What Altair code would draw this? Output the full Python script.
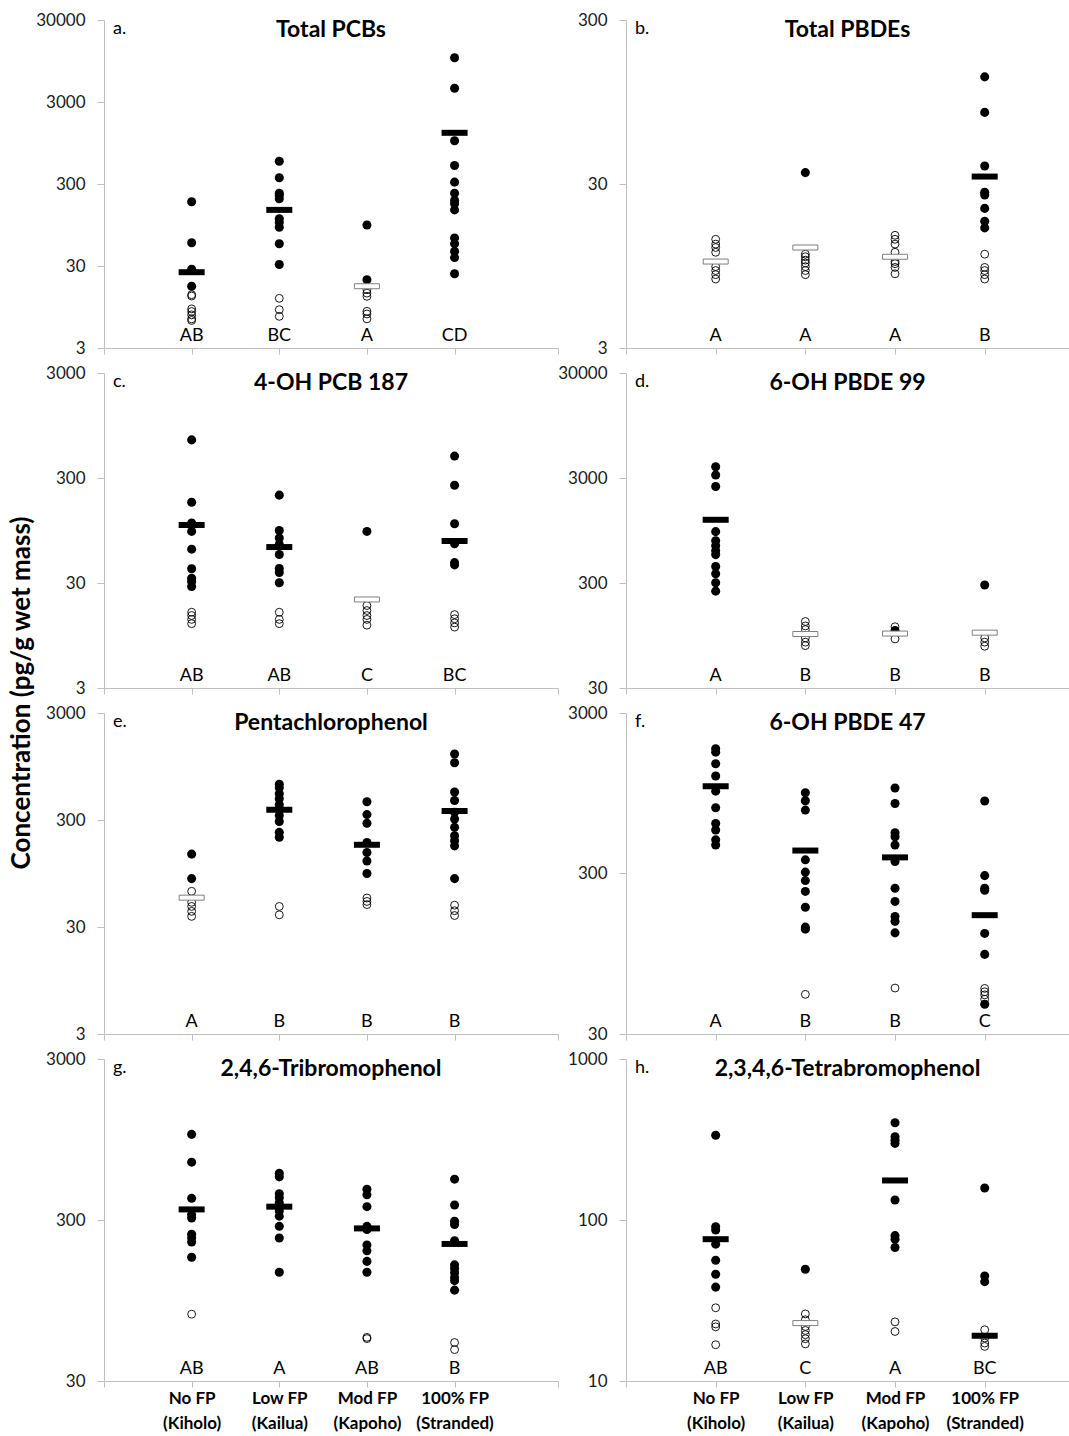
import altair as alt
import pandas as pd

# ---------------- data ----------------
X_LABELS = [["No FP", "(Kiholo)"], ["Low FP", "(Kailua)"], ["Mod FP", "(Kapoho)"], ["100% FP", "(Stranded)"]]

A_TITLE = "Total PCBs"
A_FILLED = [[182, 57.6, 27.4, 17],
            [569, 357, 231, 219, 198, 113, 102, 89, 56, 31.3],
            [95, 20.4],
            [10377, 4418, 1010, 505, 316, 231, 189, 172, 145, 66, 56, 45, 38, 24.1]]
A_OPEN = [[13.4, 12.9, 9.0, 8.35, 7.6, 6.8, 6.5], [12.1, 8.8, 7.3], [15.4, 14, 12.8, 8.4, 7.8, 6.8], []]
A_MEAN = [25.2, 145, 17, 1263]
A_MEAN_OPEN = [False, False, True, False]
A_LETTERS = ["AB", "BC", "A", "CD"]
A_YTICKS = [3, 30, 300, 3000, 30000]

B_TITLE = "Total PBDEs"
B_FILLED = [[], [35.2], [], [135, 82, 38.6, 26.7, 25.7, 21.3, 17.8, 16.2]]
B_OPEN = [[13.8, 12.9, 12.3, 11.5, 9.4, 8.9, 8.4, 7.9],
          [11.2, 10.8, 10.3, 9.9, 9.4, 8.9, 8.4],
          [14.6, 13.8, 12.9, 11.5, 10.1, 9.8, 9.3, 8.5],
          [11.2, 9.3, 8.9, 8.4, 7.9]]
B_MEAN = [10.1, 12.3, 10.8, 33.3]
B_MEAN_OPEN = [True, True, True, False]
B_LETTERS = ["A", "A", "A", "B"]
B_YTICKS = [3, 30, 300]

C_TITLE = "4-OH PCB 187"
C_FILLED = [[692, 176, 112, 93, 63, 41, 33.3, 31, 27.8],
            [206, 95, 80.6, 69.7, 56, 41.3, 37.8, 30.2],
            [93],
            [485, 256, 110, 71, 46.9, 44.6]]
C_OPEN = [[15.8, 14.7, 13.5, 12.3], [15.8, 13.5, 12.3], [18.3, 16.4, 14.7, 13.5, 11.9], [15, 13.7, 12.5, 11.4]]
C_MEAN = [107, 66, 20.9, 75.4]
C_MEAN_OPEN = [False, False, True, False]
C_LETTERS = ["AB", "AB", "C", "BC"]
C_YTICKS = [3, 30, 300, 3000]

D_TITLE = "6-OH PBDE 99"
D_FILLED = [[3840, 3200, 2490, 925, 758, 680, 610, 559, 431, 367, 302, 251], [], [106], [287]]
D_OPEN = [[], [129, 117, 108, 90, 82, 76], [115, 88], [90, 82, 75]]
D_MEAN = [1200, 98, 99, 101]
D_MEAN_OPEN = [False, True, True, True]
D_LETTERS = ["A", "B", "B", "B"]
D_YTICKS = [30, 300, 3000, 30000]

E_TITLE = "Pentachlorophenol"
E_FILLED = [[144, 85],
            [648, 599, 528, 474, 416, 330, 290, 230, 207],
            [445, 337, 280, 185, 149, 124, 95],
            [1240, 1030, 548, 457, 355, 307, 256, 214, 192, 172, 85]]
E_OPEN = [[64.7, 51, 46.7, 42, 37.7], [46.7, 39], [56, 52, 48.6], [48, 42.6, 38.4]]
E_MEAN = [56.4, 374, 176, 364]
E_MEAN_OPEN = [True, False, False, False]
E_LETTERS = ["A", "B", "B", "B"]
E_YTICKS = [3, 30, 300, 3000]

F_TITLE = "6-OH PBDE 47"
F_FILLED = [[1795, 1711, 1449, 1216, 978, 770, 615, 560, 486, 452],
            [955, 852, 745, 365, 306, 271, 232, 185, 139, 135],
            [1023, 819, 538, 508, 452, 356, 243, 201, 162, 151, 128],
            [848, 291, 243, 236, 127, 94, 46]]
F_OPEN = [[], [53], [58], [57.7, 55, 52.6, 49.4]]
F_MEAN = [1049, 417, 378, 165]
F_MEAN_OPEN = [False, False, False, False]
F_LETTERS = ["A", "B", "B", "C"]
F_YTICKS = [30, 300, 3000]

G_TITLE = "2,4,6-Tribromophenol"
G_FILLED = [[1021, 686, 409, 324, 309, 245, 232, 219, 176],
            [585, 556, 437, 413, 384, 341, 317, 274, 232, 142],
            [466, 430, 363, 274, 262, 210, 193, 166, 142],
            [538, 372, 295, 281, 223, 158, 150, 141, 132, 126, 110]]
G_OPEN = [[78], [], [56, 55], [52, 47]]
G_MEAN = [349, 363, 266, 213]
G_MEAN_OPEN = [False, False, False, False]
G_LETTERS = ["AB", "A", "AB", "B"]
G_YTICKS = [30, 300, 3000]

H_TITLE = "2,3,4,6-Tetrabromophenol"
H_FILLED = [[336, 90.8, 86.6, 70.8, 56.2, 46, 38.3],
            [49.4],
            [402, 329, 313, 299, 133, 80, 76, 67.5],
            [158, 44.9, 41.4]]
H_OPEN = [[28.5, 22.6, 21.7, 16.8],
          [26.1, 24, 21.8, 20.6, 19.4, 18.3, 17],
          [23.3, 20.3],
          [20.8, 18.5, 17.2, 16.4]]
H_MEAN = [76, 22.9, 176, 19.1]
H_MEAN_OPEN = [False, True, False, False]
H_LETTERS = ["AB", "C", "A", "BC"]
H_YTICKS = [10, 100, 1000]

Y_TITLE = "Concentration (pg/g wet mass)"

FONT = "Lato"
AXIS_GRAY = "#bfbfbf"
ROW_HEIGHTS = [328, 315, 321, 322]


def to_df(groups):
    rows = [(i + 1, v) for i, vals in enumerate(groups) for v in vals]
    return pd.DataFrame(rows, columns=["cat", "val"])


def make_panel(tag, title, filled, opened, means, mean_open, letters, yticks, left, bottom, height, ytitle=False):
    width = 454 if left else 443
    xmax = 5.18 if left else 4.94
    xticks = [0, 1, 2, 3, 4, 5.18] if left else [0, 1, 2, 3, 4]
    label_expr = ("datum.value == 1 ? ['%s','%s'] : datum.value == 2 ? ['%s','%s'] : "
                  "datum.value == 3 ? ['%s','%s'] : datum.value == 4 ? ['%s','%s'] : ''") % tuple(
        s for pair in X_LABELS for s in pair)
    xaxis = alt.Axis(values=xticks, title=None, grid=False, domainColor=AXIS_GRAY, tickColor=AXIS_GRAY,
                     tickSize=6, labels=bottom, labelExpr=label_expr, labelFontSize=17, labelFont=FONT,
                     labelFontWeight="bold", labelColor="black", labelLineHeight=25, labelPadding=3,
                     labelOverlap=False, labelFlush=False, labelBound=False)
    yaxis = alt.Axis(values=yticks, format="d", title=None, grid=False, domainColor=AXIS_GRAY,
                     tickColor=AXIS_GRAY, tickSize=7, labelFontSize=17, labelFont=FONT, labelColor="#1a1a1a",
                     labelPadding=12, labelOverlap=False, labelFlush=False)
    xs = alt.Scale(domain=[0, xmax], nice=False, zero=False)
    ys = alt.Scale(type="log", domain=[yticks[0], yticks[-1]], nice=False)
    X = alt.X("cat:Q", scale=xs, axis=xaxis)
    Y = alt.Y("val:Q", scale=ys, axis=yaxis)

    f_df = to_df(filled)
    o_df = to_df(opened)
    m_df = pd.DataFrame({"cat": [1, 2, 3, 4], "val": means, "open": mean_open})
    mf = m_df[~m_df["open"]][["cat", "val"]]
    mo = m_df[m_df["open"]][["cat", "val"]]
    l_df = pd.DataFrame({"cat": [1, 2, 3, 4], "letter": letters})

    layers = []
    layers.append(alt.Chart(o_df).mark_point(shape="circle", size=62, filled=False, color="black",
                                             strokeWidth=0.9, opacity=1).encode(x=X, y=Y))
    layers.append(alt.Chart(f_df).mark_circle(size=82, color="black", opacity=1).encode(x=X, y=Y))
    layers.append(alt.Chart(mo).mark_tick(orient="horizontal", size=25, thickness=5, fill="white",
                                          stroke="#7f7f7f", strokeWidth=1, opacity=1,
                                          fillOpacity=1).encode(x=X, y=Y))
    layers.append(alt.Chart(mf).mark_tick(orient="horizontal", size=26, thickness=6, color="black",
                                          opacity=1).encode(x=X, y=Y))
    layers.append(alt.Chart(l_df).mark_text(fontSize=18, font=FONT, color="black", baseline="middle",
                                            align="center").encode(
        x=X, y=alt.value(height - 12), text="letter:N"))
    layers.append(alt.Chart(pd.DataFrame({"t": [title]})).mark_text(
        fontSize=23, font=FONT, fontWeight="bold", color="black", baseline="middle", align="center").encode(
        x=alt.value(width / 2), y=alt.value(10), text="t:N"))
    layers.append(alt.Chart(pd.DataFrame({"t": [tag + "."]})).mark_text(
        fontSize=18, font=FONT, color="black", baseline="middle", align="left").encode(
        x=alt.value(9), y=alt.value(9), text="t:N"))
    if ytitle:
        layers.append(alt.Chart(pd.DataFrame({"t": [Y_TITLE]})).mark_text(
            fontSize=26, font=FONT, fontWeight="bold", color="black", baseline="middle", align="center",
            angle=270).encode(x=alt.value(-82), y=alt.value(height + 5), text="t:N"))
    return alt.layer(*layers).properties(width=width, height=height)


panels = [
    make_panel("a", A_TITLE, A_FILLED, A_OPEN, A_MEAN, A_MEAN_OPEN, A_LETTERS, A_YTICKS, True, False, ROW_HEIGHTS[0]),
    make_panel("b", B_TITLE, B_FILLED, B_OPEN, B_MEAN, B_MEAN_OPEN, B_LETTERS, B_YTICKS, False, False, ROW_HEIGHTS[0]),
    make_panel("c", C_TITLE, C_FILLED, C_OPEN, C_MEAN, C_MEAN_OPEN, C_LETTERS, C_YTICKS, True, False, ROW_HEIGHTS[1], ytitle=True),
    make_panel("d", D_TITLE, D_FILLED, D_OPEN, D_MEAN, D_MEAN_OPEN, D_LETTERS, D_YTICKS, False, False, ROW_HEIGHTS[1]),
    make_panel("e", E_TITLE, E_FILLED, E_OPEN, E_MEAN, E_MEAN_OPEN, E_LETTERS, E_YTICKS, True, False, ROW_HEIGHTS[2]),
    make_panel("f", F_TITLE, F_FILLED, F_OPEN, F_MEAN, F_MEAN_OPEN, F_LETTERS, F_YTICKS, False, False, ROW_HEIGHTS[2]),
    make_panel("g", G_TITLE, G_FILLED, G_OPEN, G_MEAN, G_MEAN_OPEN, G_LETTERS, G_YTICKS, True, True, ROW_HEIGHTS[3]),
    make_panel("h", H_TITLE, H_FILLED, H_OPEN, H_MEAN, H_MEAN_OPEN, H_LETTERS, H_YTICKS, False, True, ROW_HEIGHTS[3]),
]

chart = alt.concat(*panels, columns=2).properties(
    spacing={"row": 25, "column": 68},
    bounds="flush",
    padding={"left": 9, "top": 11, "right": 0, "bottom": 4},
    background="white",
).resolve_scale(x="independent", y="independent").configure(
    font=FONT, view=alt.ViewConfig(stroke=None))

chart.save("out.html", embed_options={"renderer": "svg", "actions": False})
